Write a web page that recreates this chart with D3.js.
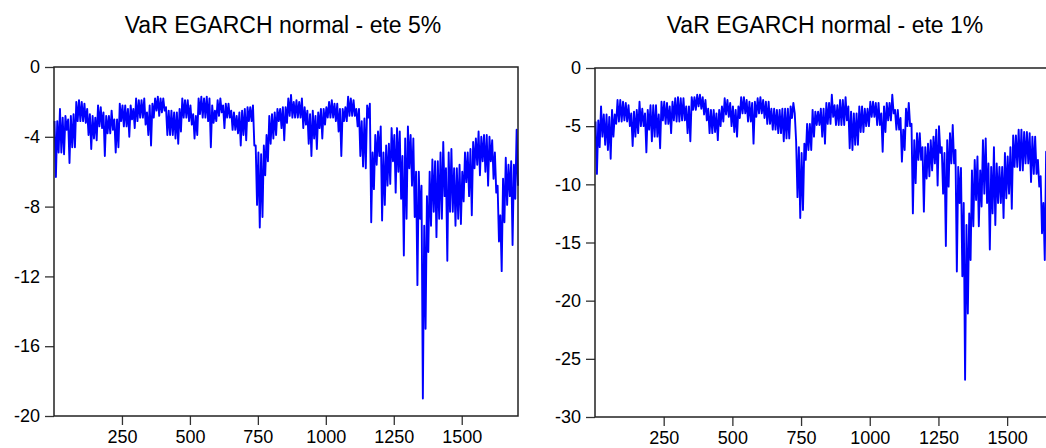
<!DOCTYPE html>
<html>
<head>
<meta charset="utf-8">
<script src="https://cdn.jsdelivr.net/npm/d3@7"></script>
<style>
  body { margin: 0; background: #fff; }
  svg { display: block; }
  text { font-family: "Liberation Sans", Arial, sans-serif; fill: #000; }
</style>
</head>
<body>
<div id="vis"></div>
<script>
// observations on the x axis, read in blocks of 10 (upper / lower point of each block)
const nObs = 1707;
const blockSize = 10;
const xTicks = [250, 500, 750, 1000, 1250, 1500];

const titles = ['VaR EGARCH normal - ete 5%', 'VaR EGARCH normal - ete 1%'];
const yTicks5 = [0, -4, -8, -12, -16, -20];
const yTicks1 = [0, -5, -10, -15, -20, -25, -30];

// 5% VaR : upper and lower value inside each block
const hi5 = [
  -3.1, -3.1, -2.4, -2.9, -2.8, -3.0, -2.8, -2.7, -2.0, -1.9,
  -2.0, -2.1, -2.4, -2.7, -2.8, -2.9, -2.2, -2.3, -2.6, -2.8,
  -2.8, -2.5, -3.0, -3.0, -2.1, -2.2, -2.2, -2.4, -2.2, -2.4,
  -1.8, -1.9, -1.9, -1.8, -2.6, -2.2, -2.1, -1.8, -1.7, -1.8,
  -1.8, -2.3, -2.5, -2.5, -2.6, -2.6, -2.4, -1.8, -1.9, -1.9,
  -2.2, -2.7, -2.8, -1.8, -1.7, -1.8, -1.7, -1.8, -2.2, -2.5,
  -1.9, -1.8, -2.2, -2.1, -2.1, -2.5, -2.6, -2.8, -2.6, -2.5,
  -2.4, -2.3, -2.3, -2.2, -4.5, -4.9, -5.0, -4.5, -3.9, -2.8,
  -2.7, -2.6, -2.4, -2.4, -2.3, -2.3, -1.8, -1.6, -2.0, -1.9,
  -2.0, -1.8, -2.3, -2.5, -2.7, -2.5, -2.8, -2.6, -2.4, -2.4,
  -2.3, -2.0, -1.9, -2.1, -2.1, -2.4, -2.4, -2.3, -1.7, -1.8,
  -1.9, -2.4, -2.4, -3.1, -2.95, -2.2, -2.1, -4.9, -3.9, -3.7,
  -3.4, -4.9, -4.5, -4.4, -3.5, -3.9, -3.5, -3.7, -5.1, -4.1,
  -3.4, -3.9, -4.1, -6.0, -6.0, -6.8, -9.1, -7.4, -6.0, -5.3,
  -5.4, -5.4, -4.9, -4.3, -5.8, -4.9, -4.7, -5.8, -5.8, -5.6,
  -6.0, -4.9, -4.9, -4.7, -4.3, -4.1, -3.7, -4.0, -3.9, -3.9,
  -4.0, -4.2, -4.9, -6.8, -8.5, -6.4, -5.2, -5.6, -5.4, -5.6,
  -3.6
];
const lo5 = [
  -6.3, -4.9, -4.9, -5.0, -3.6, -5.5, -4.6, -4.6, -3.1, -3.1,
  -3.1, -3.2, -3.9, -4.7, -4.1, -4.2, -3.4, -3.5, -5.1, -3.8,
  -3.8, -3.6, -4.9, -4.6, -3.1, -3.4, -3.4, -4.0, -3.0, -3.5,
  -3.1, -2.9, -2.9, -3.3, -3.9, -4.5, -2.9, -2.5, -2.8, -2.6,
  -2.5, -3.9, -3.9, -3.9, -4.1, -4.4, -3.7, -2.9, -2.9, -3.1,
  -3.3, -4.1, -3.9, -2.7, -2.9, -2.9, -3.1, -4.6, -3.2, -3.1,
  -2.8, -2.6, -3.5, -2.9, -2.9, -3.6, -3.6, -3.8, -4.5, -3.9,
  -4.2, -3.1, -3.1, -4.5, -7.9, -9.2, -8.6, -6.2, -5.4, -4.4,
  -4.1, -3.9, -3.1, -3.5, -4.2, -3.2, -2.8, -2.9, -2.9, -2.9,
  -2.9, -3.5, -3.3, -4.4, -5.1, -4.1, -4.7, -3.5, -4.1, -3.3,
  -2.9, -2.9, -2.9, -3.1, -3.7, -5.1, -3.1, -3.1, -2.8, -2.8,
  -2.8, -3.4, -5.1, -5.7, -5.8, -2.9, -8.9, -7.0, -5.6, -5.1,
  -8.8, -7.9, -6.8, -6.7, -5.4, -7.2, -6.0, -7.55, -10.8, -8.7,
  -5.8, -6.8, -8.6, -12.5, -8.7, -19.0, -15.0, -10.6, -9.1, -8.3,
  -9.75, -8.7, -8.7, -7.4, -11.1, -8.3, -8.3, -9.1, -8.7, -9.0,
  -7.7, -6.6, -7.4, -8.5, -5.8, -5.6, -6.2, -5.4, -6.0, -6.8,
  -5.4, -6.4, -7.2, -10.0, -11.7, -8.9, -7.9, -7.4, -10.2, -7.55,
  -6.8
];

// 1% VaR : upper and lower value inside each block (the end is cut by the picture)
const hi1 = [
  -4.6, -4.5, -3.3, -4.0, -4.0, -4.2, -3.6, -4.0, -2.75, -2.75,
  -2.9, -3.0, -3.2, -3.9, -3.75, -3.6, -2.9, -3.5, -3.9, -3.6,
  -3.2, -3.2, -3.2, -4.0, -2.9, -2.9, -3.0, -3.3, -2.9, -2.6,
  -2.5, -2.6, -2.6, -3.3, -3.3, -2.5, -2.5, -2.3, -2.3, -2.5,
  -2.75, -3.5, -3.6, -3.6, -3.9, -3.6, -3.3, -2.6, -2.75, -3.0,
  -3.3, -3.6, -3.3, -2.5, -2.5, -2.75, -2.9, -3.0, -2.9, -2.6,
  -2.5, -2.75, -2.9, -2.9, -3.5, -3.5, -3.6, -3.6, -3.5, -3.5,
  -3.5, -3.3, -3.0, -6.3, -6.8, -7.3, -6.5, -4.8, -4.8, -3.6,
  -3.75, -3.75, -3.5, -3.5, -3.0, -3.0, -2.3, -3.2, -3.2, -2.75,
  -2.75, -2.5, -3.3, -3.75, -3.9, -3.9, -3.3, -3.3, -3.5, -3.5,
  -2.9, -2.9, -3.0, -3.0, -3.9, -3.3, -3.0, -3.0, -2.3, -3.6,
  -3.6, -4.3, -5.3, -3.5, -3.0, -4.8, -6.2, -5.6, -5.6, -6.8,
  -6.8, -6.5, -6.2, -5.9, -5.3, -5.0, -6.8, -7.3, -6.2, -5.6,
  -4.9, -7.05, -8.5, -8.6, -11.6, -13.5, -12.5, -8.8, -7.9, -7.6,
  -8.8, -6.2, -6.05, -8.2, -8.5, -6.8, -8.2, -8.5, -8.5, -7.3,
  -7.6, -6.8, -5.8, -5.8, -5.3, -5.3, -5.5, -5.5, -5.6, -5.9,
  -5.9, -7.9, -9.3, -11.6, -7.2
];
const lo1 = [
  -9.1, -6.8, -5.9, -6.6, -7.05, -7.8, -5.9, -4.8, -4.6, -4.6,
  -4.5, -4.6, -5.0, -6.7, -5.9, -5.6, -5.0, -5.0, -7.25, -5.3,
  -6.3, -5.9, -5.9, -6.9, -4.5, -4.8, -4.8, -5.6, -4.5, -4.6,
  -4.6, -4.5, -4.5, -5.6, -6.3, -3.6, -3.6, -3.3, -3.5, -4.0,
  -4.5, -5.6, -5.6, -5.5, -6.2, -5.0, -4.6, -4.0, -4.2, -5.0,
  -5.5, -5.9, -4.3, -3.9, -3.9, -4.6, -4.6, -6.5, -4.2, -3.9,
  -3.9, -4.3, -4.8, -4.8, -5.3, -5.3, -5.6, -5.6, -6.3, -6.05,
  -6.05, -4.3, -3.9, -11.1, -12.9, -12.2, -7.9, -7.05, -7.05, -5.9,
  -4.9, -4.9, -5.9, -6.5, -4.8, -4.8, -4.2, -4.9, -4.9, -4.9,
  -4.9, -4.5, -6.9, -7.05, -6.6, -6.6, -5.5, -5.5, -5.0, -5.0,
  -4.2, -4.2, -4.9, -4.9, -7.2, -5.5, -4.5, -4.5, -3.9, -5.3,
  -5.3, -8.05, -7.05, -5.0, -5.0, -12.5, -9.9, -7.9, -7.9, -12.35,
  -9.5, -9.3, -8.8, -8.2, -10.1, -7.3, -10.8, -15.3, -10.2, -8.2,
  -8.2, -17.5, -11.6, -17.9, -26.8, -21.1, -16.5, -13.6, -11.35, -13.6,
  -11.9, -10.8, -11.6, -15.6, -12.5, -13.5, -11.6, -11.6, -12.9, -11.2,
  -10.8, -12.1, -8.5, -8.5, -8.8, -8.8, -8.2, -8.2, -9.8, -9.1,
  -9.1, -10.2, -14.2, -16.5, -13.1
];

const W = 1046, H = 448;

const svg = d3
  .select('#vis')
  .append('svg')
  .attr('width', W)
  .attr('height', H)
  .attr('viewBox', [0, 0, W, H].join(' '));

// upper / lower point of each block, in order -> a dense zig-zag like the original line
function toSeries(hi, lo) {
  const pts = [];
  hi.forEach((h, k) => {
    pts.push({ t: k * blockSize + 2, v: h });
    pts.push({ t: k * blockSize + 7, v: lo[k] });
  });
  return pts;
}

function drawPanel(box, title, yTicks, series) {
  const g = svg.append('g');

  const x = d3.scaleLinear().domain([0, nObs]).range([box.left, box.right]);
  const y = d3
    .scaleLinear()
    .domain([d3.min(yTicks), 0])
    .range([box.bottom, box.top]);

  // title
  g.append('text')
    .attr('x', box.titleX)
    .attr('y', 33)
    .attr('text-anchor', 'middle')
    .style('font-size', '23px')
    .text(title);

  // y axis
  const ya = g
    .append('g')
    .attr('transform', `translate(${box.left}, 0)`)
    .call(
      d3.axisLeft(y).tickValues(yTicks).tickSize(9).tickPadding(5)
        .tickFormat((d) => String(d))
    );
  // x axis
  const xa = g
    .append('g')
    .attr('transform', `translate(0, ${box.bottom})`)
    .call(
      d3.axisBottom(x).tickValues(xTicks).tickSize(9).tickPadding(5)
        .tickFormat((d) => String(d))
    );
  [ya, xa].forEach((a) => {
    a.select('.domain').remove();
    a.selectAll('line').attr('stroke', '#333').attr('stroke-width', 1.3);
    a.selectAll('text')
      .style('font-size', '18px')
      .style('font-family', '"Liberation Sans", Arial, sans-serif')
      .attr('fill', '#000');
  });

  // the series
  const line = d3
    .line()
    .x((d) => x(d.t))
    .y((d) => y(d.v));

  g.append('path')
    .datum(series)
    .attr('d', line)
    .attr('fill', 'none')
    .attr('stroke', '#0000ff')
    .attr('stroke-width', 1.9)
    .attr('stroke-linejoin', 'round');

  // frame
  g.append('rect')
    .attr('x', box.left)
    .attr('y', box.top)
    .attr('width', box.right - box.left)
    .attr('height', box.bottom - box.top)
    .attr('fill', 'none')
    .attr('stroke', '#222')
    .attr('stroke-width', 1.5);
}

drawPanel(
  { left: 54, right: 518, top: 67, bottom: 416, titleX: 283 },
  titles[0],
  yTicks5,
  toSeries(hi5, lo5)
);
drawPanel(
  { left: 595, right: 1064, top: 68, bottom: 417, titleX: 825 },
  titles[1],
  yTicks1,
  toSeries(hi1, lo1)
);
</script>
</body>
</html>
